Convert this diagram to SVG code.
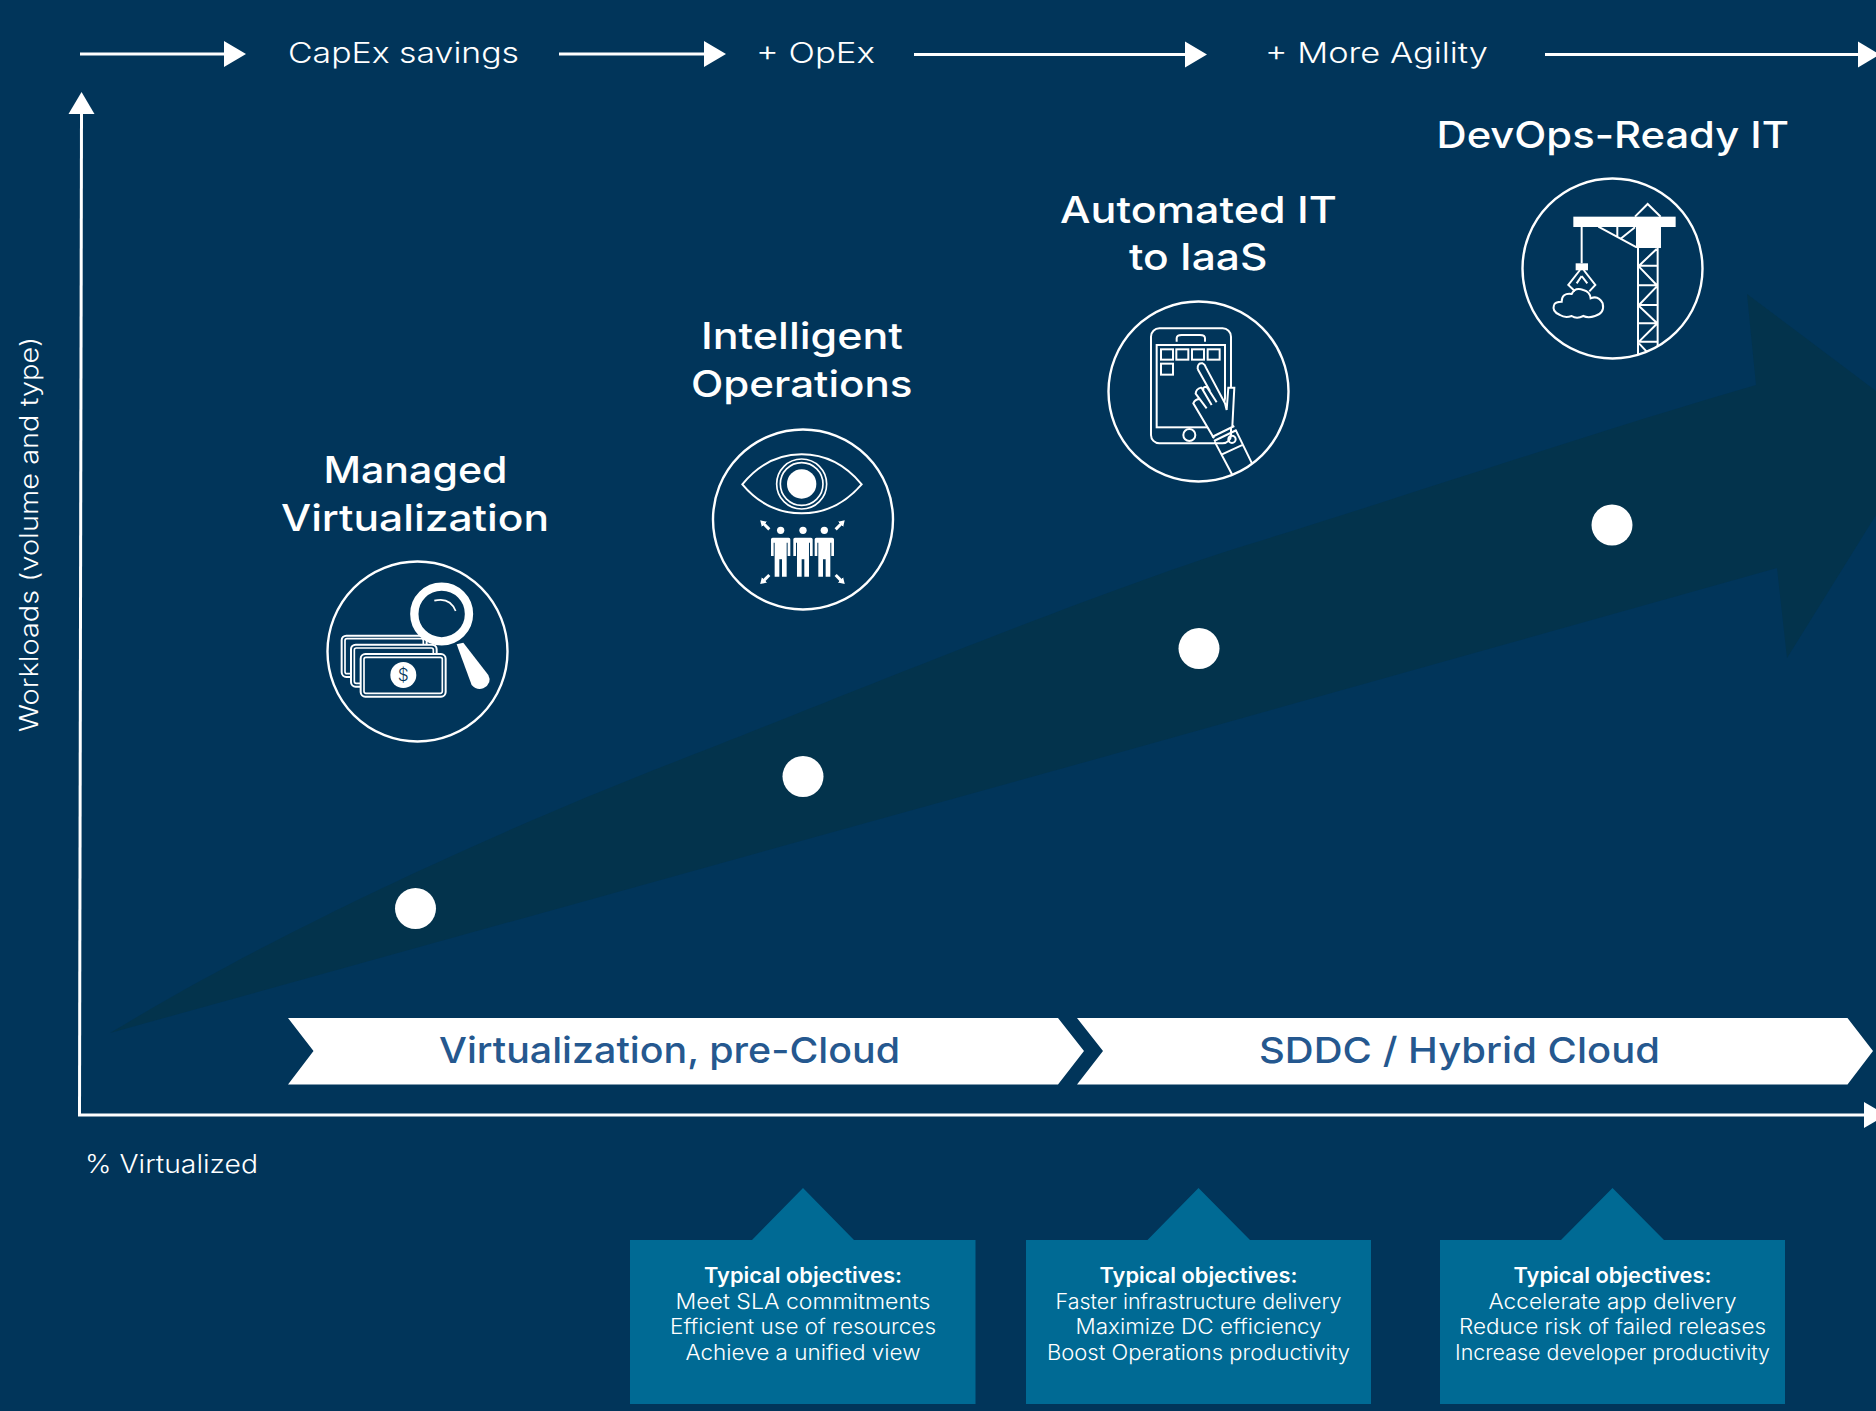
<svg xmlns="http://www.w3.org/2000/svg" width="1876" height="1411" viewBox="0 0 1876 1411">
<style>
text{font-family:Inter,"Noto Sans","Liberation Sans",sans-serif;fill:#fff}
.top{font-size:28px;font-weight:300}
.axis{font-size:25px;font-weight:300}
.head{font-size:37px;font-weight:500}
.band{font-size:36px;font-weight:500;fill:#25588f}
.obj{font-size:21px;font-weight:300;text-anchor:middle}
.objt{font-size:21px;font-weight:600;text-anchor:middle}
.conn{stroke:#fff;stroke-width:3;fill:none;marker-end:url(#ah)}
.ring{fill:none;stroke:#fff;stroke-width:2.4}
.dot{fill:#fff}
.box{fill:#006a94}
.ln{fill:none;stroke:#fff;stroke-width:6}
.wh{fill:#fff}
</style>
<defs>
<marker id="ah" markerUnits="userSpaceOnUse" markerWidth="23" markerHeight="28" refX="0" refY="14" orient="auto"><path d="M0 1L22 14L0 27Z" fill="#fff"/></marker>
<marker id="sh" markerUnits="userSpaceOnUse" markerWidth="20" markerHeight="24" refX="2" refY="12" orient="auto"><path d="M0 1L18 12L0 23Z" fill="#fff"/></marker>
<path id="person" d="M-29 5Q-29 0-24 0H24Q29 0 29 5V55H21V15H18V117H4V65H-4V117H-18V15H-21V55H-29Z" fill="#fff"/>
<clipPath id="cranec"><circle cx="306" cy="294" r="272"/></clipPath>
</defs>
<rect width="1876" height="1411" fill="#01355a"/>
<path id="growth-arrow" d="M110 1033C190 985 260 948 327 915S520 822 677 761S1100 590 1250 544S1600 430 1756 385L1747 294L1876 391V515L1787 658L1777 568L1089 761Z" fill="#03334c"/>
<g id="connectors">
<line class="conn" x1="80" y1="54" x2="224" y2="54"/>
<line class="conn" x1="559" y1="54" x2="704" y2="54"/>
<line class="conn" x1="914" y1="54.500" x2="1185" y2="54.500"/>
<line class="conn" x1="1545" y1="54.500" x2="1858" y2="54.500"/>
<line class="conn" x1="79.500" y1="1115" x2="81.500" y2="114"/>
<line class="conn" x1="78" y1="1115" x2="1864" y2="1115"/>
</g>
<g id="axis-labels">
<text class="top" x="288" y="63" textLength="231" lengthAdjust="spacingAndGlyphs">CapEx savings</text>
<text class="top" x="756" y="63" textLength="119" lengthAdjust="spacingAndGlyphs">+ OpEx</text>
<text class="top" x="1265" y="63" textLength="223" lengthAdjust="spacingAndGlyphs">+ More Agility</text>
<text class="axis" transform="translate(38 732) rotate(-90)" textLength="395" lengthAdjust="spacingAndGlyphs">Workloads (volume and type)</text>
<text class="axis" x="85" y="1172.500" textLength="173" lengthAdjust="spacingAndGlyphs">% Virtualized</text>
</g>
<g id="band-virtualization">
<path d="M288 1018H1058L1084 1051L1058 1084.500H288L313.500 1051Z" fill="#fff"/>
<text class="band" x="439" y="1063" textLength="461" lengthAdjust="spacingAndGlyphs">Virtualization, pre-Cloud</text>
</g>
<g id="band-sddc">
<path d="M1077 1018H1847.500L1873 1051L1847.500 1084.500H1077L1103 1051Z" fill="#fff"/>
<text class="band" x="1259" y="1063" textLength="401" lengthAdjust="spacingAndGlyphs">SDDC / Hybrid Cloud</text>
</g>
<g id="node-managed-virtualization">
<text class="head" x="323.500" y="483" textLength="184" lengthAdjust="spacingAndGlyphs">Managed</text>
<text class="head" x="281" y="531" textLength="268" lengthAdjust="spacingAndGlyphs">Virtualization</text>
<circle class="ring" cx="417.500" cy="651.500" r="90"/>
<g transform="translate(300 550) scale(.3333)">
<g fill="#01355a" stroke="#fff">
<rect x="125" y="257" width="255" height="124" rx="14" stroke-width="6"/><rect x="135" y="266" width="235" height="105" rx="6" stroke-width="5"/>
<rect x="153" y="284" width="257" height="126" rx="14" stroke-width="6"/><rect x="163" y="294" width="237" height="106" rx="6" stroke-width="5"/>
<rect x="182" y="312" width="255" height="128" rx="14" stroke-width="6"/><rect x="192" y="322" width="235" height="108" rx="6" stroke-width="5"/>
</g>
<circle class="wh" cx="310" cy="375" r="39"/>
<text x="310" y="393" font-size="52" text-anchor="middle" style="fill:#01355a;font-weight:300">$</text>
<circle cx="425" cy="192" r="82" fill="#01355a" stroke="#fff" stroke-width="25"/>
<path d="M403 152Q450 140 467 183" fill="none" stroke="#fff" stroke-width="5"/>
<path class="wh" d="M470 283L490 278L565 375Q578 400 550 415Q530 422 515 405Z"/>
</g>
<circle class="dot" cx="415.500" cy="908.500" r="20.500"/>
</g>
<g id="node-intelligent-operations">
<text class="head" x="701" y="349" textLength="202" lengthAdjust="spacingAndGlyphs">Intelligent</text>
<text class="head" x="691" y="397" textLength="221.500" lengthAdjust="spacingAndGlyphs">Operations</text>
<circle class="ring" cx="803" cy="519.500" r="90"/>
<g transform="translate(700 420) scale(.3333)">
<path class="ln" stroke-width="7" d="M127 193Q200 103 305 103Q410 103 485 193Q410 280 305 280Q200 280 127 193Z"/>
<circle cx="305" cy="192" r="75" fill="none" stroke="#fff" stroke-width="5"/>
<circle cx="305" cy="192" r="64" fill="none" stroke="#fff" stroke-width="5"/>
<circle class="wh" cx="305" cy="192" r="44"/>
<circle class="wh" cx="242" cy="331" r="11"/><circle class="wh" cx="309" cy="331" r="11"/><circle class="wh" cx="373" cy="331" r="11"/>
<use href="#person" x="242" y="353"/><use href="#person" x="309" y="353"/><use href="#person" x="373" y="353"/>
<g stroke="#fff" stroke-width="9" fill="none">
<line x1="208" y1="328" x2="192" y2="312" marker-end="url(#sh)"/>
<line x1="407" y1="328" x2="423" y2="312" marker-end="url(#sh)"/>
<line x1="208" y1="465" x2="192" y2="481" marker-end="url(#sh)"/>
<line x1="407" y1="465" x2="423" y2="481" marker-end="url(#sh)"/>
</g>
</g>
<circle class="dot" cx="803" cy="776.500" r="20.500"/>
</g>
<g id="node-automated-it">
<text class="head" x="1060" y="222.500" textLength="277" lengthAdjust="spacingAndGlyphs">Automated IT</text>
<text class="head" x="1129" y="270" textLength="138.500" lengthAdjust="spacingAndGlyphs">to IaaS</text>
<circle class="ring" cx="1198.500" cy="391.500" r="90"/>
<g transform="translate(1100 295) scale(.3333)">
<rect class="ln" x="153" y="100" width="240" height="345" rx="25"/>
<rect class="ln" x="170" y="150" width="205" height="247"/>
<path class="ln" d="M230 140V130Q230 120 245 120H300Q315 120 315 130V140"/>
<g class="ln" fill="none">
<rect x="183" y="163" width="36" height="31"/><rect x="229" y="163" width="36" height="31"/><rect x="276" y="163" width="36" height="31"/><rect x="323" y="163" width="36" height="31"/><rect x="183" y="206" width="36" height="33"/>
</g>
<circle class="ln" cx="268" cy="420" r="18"/>
<path d="M293 222Q292 203 308 205Q315 208 318 218L375 325L385 278H403L397 395L342 425L281 328Q278 318 290 312L303 320L291 296Q300 280 310 280Z" fill="#01355a"/>
<path class="ln" d="M293 222Q292 203 308 205Q315 208 318 218L375 325L380 345L385 278H403L397 395M293 222L330 288M350 322L322 278Q315 272 307 282L335 330M312 285L303 278Q288 282 287 296L320 340M300 312Q285 312 280 325L342 430"/>
<path class="ln" d="M336 426L403 393M342 438L410 405M366 478L431 448M344 440L396 538M408 407L456 505"/>
<circle class="ln" cx="396" cy="433" r="11"/>
</g>
<circle class="dot" cx="1199" cy="648.500" r="20.500"/>
</g>
<g id="node-devops-ready">
<text class="head" x="1436.500" y="148" textLength="352.500" lengthAdjust="spacingAndGlyphs">DevOps-Ready IT</text>
<circle class="ring" cx="1612.500" cy="268.500" r="90"/>
<g transform="translate(1510 170) scale(.3333)">
<rect class="wh" x="190" y="140" width="307" height="31"/>
<rect class="wh" x="378" y="170" width="75" height="64"/>
<path class="ln" d="M375 140L413 102L452 140M265 170L380 232M322 170V200M375 172L330 208M215 170V280"/>
<rect class="wh" x="197" y="280" width="37" height="21"/>
<path class="ln" d="M210 300L175 345L195 364M221 300L256 345L238 364M215 318L200 340M215 318L232 340"/>
<path class="ln" d="M150 435Q125 425 132 405Q135 395 155 395Q155 368 185 372Q195 350 220 360Q240 365 242 385Q265 375 278 400Q285 430 255 438Q235 445 220 438Q200 448 185 438Q165 445 150 435Z"/>
<g clip-path="url(#cranec)">
<path class="ln" stroke-width="7" d="M384 233V560M443 233V560M384 287H443M384 346H443M384 405H443M384 460H443M384 515H443M387 287L440 237M387 290L440 345M387 405L440 350M387 408L440 458M387 515L440 462M387 520L415 550"/>
</g>
</g>
<circle class="dot" cx="1612" cy="525" r="20.500"/>
</g>
<g id="callout-intelligent">
<path class="box" d="M630 1240H752L803 1188L854 1240H975.500V1404H630Z"/>
<text class="objt" x="803" y="1282.500" textLength="198" lengthAdjust="spacingAndGlyphs">Typical objectives:</text>
<text class="obj" x="803" y="1309" textLength="255" lengthAdjust="spacingAndGlyphs">Meet SLA commitments</text>
<text class="obj" x="803" y="1333.500" textLength="266" lengthAdjust="spacingAndGlyphs">Efficient use of resources</text>
<text class="obj" x="803" y="1360" textLength="235" lengthAdjust="spacingAndGlyphs">Achieve a unified view</text>
</g>
<g id="callout-automated">
<path class="box" d="M1026 1240H1147.500L1198.500 1188L1250 1240H1371V1404H1026Z"/>
<text class="objt" x="1198.500" y="1282.500" textLength="198" lengthAdjust="spacingAndGlyphs">Typical objectives:</text>
<text class="obj" x="1198.500" y="1309" textLength="286" lengthAdjust="spacingAndGlyphs">Faster infrastructure delivery</text>
<text class="obj" x="1198.500" y="1333.500" textLength="246" lengthAdjust="spacingAndGlyphs">Maximize DC efficiency</text>
<text class="obj" x="1198.500" y="1360" textLength="303" lengthAdjust="spacingAndGlyphs">Boost Operations productivity</text>
</g>
<g id="callout-devops">
<path class="box" d="M1440 1240H1561L1612.500 1188L1664 1240H1785V1404H1440Z"/>
<text class="objt" x="1612.500" y="1282.500" textLength="198" lengthAdjust="spacingAndGlyphs">Typical objectives:</text>
<text class="obj" x="1612.500" y="1309" textLength="248" lengthAdjust="spacingAndGlyphs">Accelerate app delivery</text>
<text class="obj" x="1612.500" y="1333.500" textLength="307" lengthAdjust="spacingAndGlyphs">Reduce risk of failed releases</text>
<text class="obj" x="1612.500" y="1360" textLength="315" lengthAdjust="spacingAndGlyphs">Increase developer productivity</text>
</g>
</svg>
